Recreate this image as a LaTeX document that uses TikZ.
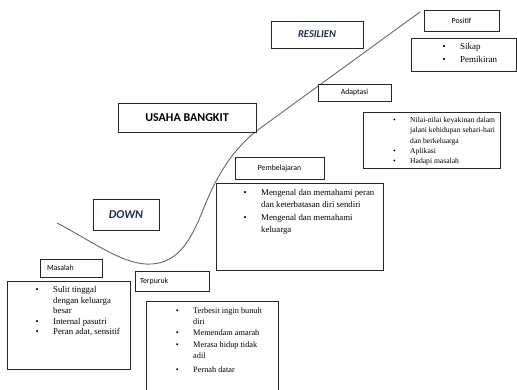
\documentclass[tikz,border=0pt]{standalone}
\usepackage{fontspec}
\setmainfont{Liberation Serif}
\newfontfamily\lblfont{Carlito}
\definecolor{navy}{HTML}{1F2D4F}
\newcommand{\bul}[1]{\parbox[t]{160pt}{\raggedright\noindent\llap{\textbullet\hspace{14.5pt}}#1}}
\begin{document}
\begin{tikzpicture}[x=1pt,y=-1pt,
  box/.style={draw=black!85, line width=0.9pt, fill=white, inner sep=0pt},
  lbl/.style={box, font=\lblfont\fontsize{7.8}{9}\selectfont},
  head/.style={box, font=\lblfont\bfseries\fontsize{12}{14}\selectfont},
  itm/.style={inner sep=0pt, anchor=base west},
  curve/.style={draw=black!60, line width=0.9pt}]
\useasboundingbox (0,0) rectangle (517,390);
\fill[white] (0,0) rectangle (517,390);

% curve
\coordinate (c0) at (57,223);
\coordinate (c1) at (152,264);
\coordinate (c2) at (205,205);
\coordinate (c3) at (255,132);
\coordinate (c4) at (420,12);
\draw[curve] (c0) .. controls (95,243) and (125,266) .. (c1)
  .. controls (180,262) and (192,238) .. (c2)
  .. controls (220,168) and (237,147) .. (c3) -- (c4);

% headings
\node[head, minimum width=138, minimum height=29] (usaha) at (187,117.5) {USAHA BANGKIT};
\node[head, text=navy, font=\lblfont\bfseries\itshape\fontsize{10.5}{12}\selectfont, minimum width=92, minimum height=27] (resilien) at (317,34.5) {RESILIEN};
\node[head, text=navy, font=\lblfont\bfseries\itshape\fontsize{12}{14}\selectfont, minimum width=66, minimum height=31] (down) at (126,214.5) {DOWN};

% label boxes
\node[lbl, text width=48, inner xsep=7, align=left, minimum height=18] (masalah) at (71,268) {Masalah};
\node[lbl, text width=64, inner xsep=5, align=left, minimum height=20] (terpuruk) at (172,281) {Terpuruk};
\node[lbl, minimum width=89, minimum height=22] (pemb) at (279.5,168) {Pembelajaran};
\node[lbl, minimum width=73, minimum height=17] (adapt) at (354.5,92.5) {Adaptasi};
\node[lbl, minimum width=75, minimum height=21] (positif) at (461.5,20.5) {Positif};

% list boxes
\node[box, minimum width=123, minimum height=88] (masalahB) at (68.5,325) {};
\node[box, minimum width=132, minimum height=94] (terpurukB) at (212,348) {};
\node[box, minimum width=167, minimum height=87] (pembB) at (299.5,226.5) {};
\node[box, minimum width=137, minimum height=56] (adaptB) at (431.5,140) {};
\node[box, minimum width=105, minimum height=33] (positifB) at (463.5,54.5) {};

% Masalah list
\begin{scope}[every node/.style={itm, font=\fontsize{8.8}{10.3}\selectfont}]
\node (m1) at (53,293) {\bul{Sulit tinggal\\dengan keluarga\\besar}};
\node (m2) at (53,324.5) {\bul{Internal pasutri}};
\node (m3) at (53,334.5) {\bul{Peran adat, sensitif}};
\end{scope}

% Terpuruk list
\begin{scope}[every node/.style={itm, font=\fontsize{8.3}{10.8}\selectfont}]
\node (t1) at (193,313.5) {\bul{Terbesit ingin bunuh\\diri}};
\node (t2) at (193,335.5) {\bul{Memendam amarah}};
\node (t3) at (193,347.5) {\bul{Merasa hidup tidak\\adil}};
\node (t4) at (193,372.5) {\bul{Pernah datar}};
\end{scope}

% Pembelajaran list
\begin{scope}[every node/.style={itm, font=\fontsize{8.8}{12}\selectfont}]
\node (p1) at (261,195.5) {\bul{Mengenal dan memahami peran\\dan keterbatasan diri sendiri}};
\node (p2) at (261,220.5) {\bul{Mengenal dan memahami\\keluarga}};
\end{scope}

% Adaptasi list
\begin{scope}[every node/.style={itm, font=\fontsize{7.6}{10.3}\selectfont}]
\node (a1) at (410,122.5) {\bul{Nilai-nilai keyakinan dalam\\jalani kehidupan sehari-hari\\dan berkeluarga}};
\node (a2) at (410,153.5) {\bul{Aplikasi}};
\node (a3) at (410,163.5) {\bul{Hadapi masalah}};
\end{scope}

% Positif list
\begin{scope}[every node/.style={itm, font=\fontsize{9}{13}\selectfont}]
\node (s1) at (460,49.5) {\bul{Sikap}};
\node (s2) at (460,62.5) {\bul{Pemikiran}};
\end{scope}
\end{tikzpicture}
\end{document}
